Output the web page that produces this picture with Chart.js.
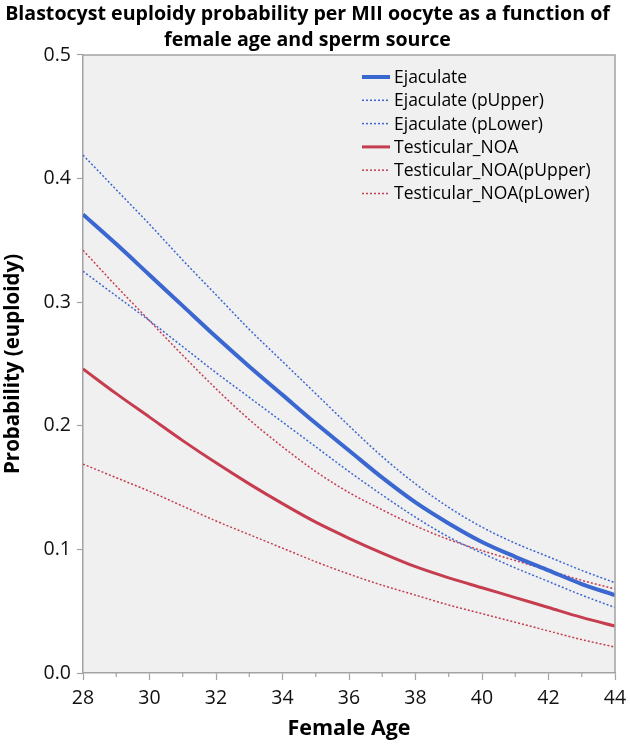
<!DOCTYPE html>
<html>
<head>
<meta charset="utf-8">
<script src="https://cdn.jsdelivr.net/npm/chart.js@4/dist/chart.umd.min.js"></script>
<style>
  html, body { margin: 0; padding: 0; background: #ffffff; }
  #wrap { width: 630px; height: 745px; }
</style>
</head>
<body>
<div id="wrap"><canvas id="c" width="630" height="745"></canvas></div>
<script>
// ---- Data ----
const titleLines = ["Blastocyst euploidy probability per MII oocyte as a function of", "female age and sperm source"];
const xTitle = "Female Age";
const yTitle = "Probability (euploidy)";
const ages = [28, 29, 30, 31, 32, 33, 34, 35, 36, 37, 38, 39, 40, 41, 42, 43, 44];
const ejaculate      = [0.371, 0.347, 0.322, 0.297, 0.272, 0.248, 0.225, 0.202, 0.180, 0.158, 0.138, 0.121, 0.106, 0.094, 0.083, 0.072, 0.063];
const ejaculateUpper = [0.419, 0.391, 0.363, 0.334, 0.306, 0.278, 0.252, 0.226, 0.200, 0.175, 0.153, 0.134, 0.118, 0.105, 0.094, 0.083, 0.073];
const ejaculateLower = [0.325, 0.305, 0.285, 0.264, 0.243, 0.223, 0.203, 0.183, 0.163, 0.144, 0.126, 0.110, 0.097, 0.085, 0.074, 0.063, 0.053];
const noa            = [0.246, 0.226, 0.207, 0.188, 0.170, 0.153, 0.137, 0.122, 0.109, 0.097, 0.086, 0.077, 0.069, 0.061, 0.053, 0.045, 0.038];
const noaUpper       = [0.342, 0.313, 0.285, 0.257, 0.230, 0.205, 0.183, 0.163, 0.146, 0.132, 0.119, 0.108, 0.099, 0.091, 0.083, 0.075, 0.068];
const noaLower       = [0.169, 0.158, 0.147, 0.135, 0.123, 0.112, 0.101, 0.090, 0.080, 0.071, 0.063, 0.055, 0.048, 0.041, 0.034, 0.027, 0.021];
const seriesLabels = ["Ejaculate", "Ejaculate (pUpper)", "Ejaculate (pLower)", "Testicular_NOA", "Testicular_NOA(pUpper)", "Testicular_NOA(pLower)"];
const yTickValues = [0, 0.1, 0.2, 0.3, 0.4, 0.5];

// ---- Styles ----
const FONT = "'Open Sans', 'Noto Sans', sans-serif";
const BLUE = "rgb(59,103,209)";
const RED = "rgb(197,61,79)";
const FRAME = "#a3a3a3";

function pts(vals) { return ages.map((a, i) => ({ x: a, y: vals[i] })); }

function ds(label, vals, color, width, dash) {
  return {
    label: label,
    data: pts(vals),
    borderColor: color,
    backgroundColor: color,
    borderWidth: width,
    borderDash: dash,
    pointRadius: 0,
    cubicInterpolationMode: 'monotone',
    fill: false
  };
}

const bgAndFrame = {
  id: 'bgAndFrame',
  beforeDraw(chart) {
    const { ctx, chartArea: a } = chart;
    ctx.save();
    ctx.fillStyle = '#f0f0f0';
    ctx.fillRect(a.left, a.top, a.right - a.left, a.bottom - a.top);
    ctx.restore();
  },
  afterDraw(chart) {
    const { ctx, chartArea: a } = chart;
    ctx.save();
    ctx.strokeStyle = FRAME;
    ctx.lineWidth = 1.5;
    ctx.beginPath();
    ctx.moveTo(a.left, a.top); ctx.lineTo(a.right, a.top); ctx.lineTo(a.right, a.bottom);
    ctx.stroke();
    // minor x ticks at odd ages
    const xs = chart.scales.x;
    ctx.lineWidth = 1.2;
    ages.forEach(v => {
      if (v % 2 === 1) {
        const px = xs.getPixelForValue(v);
        ctx.beginPath(); ctx.moveTo(px, a.bottom); ctx.lineTo(px, a.bottom + 4); ctx.stroke();
      }
    });
    // legend inside plot
    const lx0 = 362, lx1 = 390, tx = 394, y0 = 77, dy = 23.3;
    ctx.font = "17.5px " + FONT;
    ctx.textBaseline = 'middle';
    ctx.textAlign = 'left';
    chart.data.datasets.forEach((d, i) => {
      const y = y0 + i * dy;
      ctx.strokeStyle = d.borderColor;
      ctx.lineWidth = d.borderWidth;
      ctx.setLineDash(d.borderDash || []);
      ctx.beginPath(); ctx.moveTo(lx0, y); ctx.lineTo(lx1, y); ctx.stroke();
      ctx.setLineDash([]);
      ctx.fillStyle = '#000';
      ctx.fillText(d.label, tx, y + 1);
    });
    ctx.restore();
  }
};

new Chart(document.getElementById('c'), {
  type: 'line',
  data: {
    datasets: [
      ds(seriesLabels[0], ejaculate, BLUE, 4, []),
      ds(seriesLabels[1], ejaculateUpper, BLUE, 1.5, [2, 2]),
      ds(seriesLabels[2], ejaculateLower, BLUE, 1.5, [2, 2]),
      ds(seriesLabels[3], noa, RED, 3, []),
      ds(seriesLabels[4], noaUpper, RED, 1.5, [2, 2]),
      ds(seriesLabels[5], noaLower, RED, 1.5, [2, 2])
    ]
  },
  options: {
    responsive: false,
    animation: false,
    layout: { padding: { left: 0, right: 15, top: 0, bottom: 0 } },
    plugins: {
      legend: { display: false },
      tooltip: { enabled: false },
      title: {
        display: true,
        text: titleLines,
        color: '#000',
        font: { family: FONT, size: 19.6, weight: 'bold', lineHeight: 1.3 },
        padding: { top: 2, bottom: 2 }
      }
    },
    scales: {
      x: {
        type: 'linear',
        min: 28, max: 44,
        afterFit(s) { s.height = 72; s.paddingLeft = 0; s.paddingRight = 0; },
        ticks: { stepSize: 2, color: '#111', padding: 7, font: { family: FONT, size: 19.5 } },
        grid: { drawOnChartArea: false, tickLength: 7, tickColor: FRAME, tickWidth: 1.2 },
        border: { display: true, color: FRAME, width: 1.5 },
        title: { display: true, text: xTitle, color: '#000', font: { family: FONT, size: 21.5, weight: 'bold' }, padding: { top: 0, bottom: 3 } }
      },
      y: {
        type: 'linear',
        min: 0, max: 0.5,
        afterFit(s) { s.width = 83; s.paddingTop = 0; s.paddingBottom = 0; },
        afterBuildTicks(s) { s.ticks = yTickValues.map(v => ({ value: v })); },
        ticks: { color: '#111', padding: 6, font: { family: FONT, size: 19.5 }, callback: v => Number(v).toFixed(1) },
        grid: { drawOnChartArea: false, tickLength: 6, tickColor: FRAME, tickWidth: 1.2 },
        border: { display: true, color: FRAME, width: 1.5 },
        title: { display: true, text: yTitle, color: '#000', font: { family: FONT, size: 20.5, weight: 'bold' }, padding: { top: 1, bottom: 0 } }
      }
    }
  },
  plugins: [bgAndFrame]
});
</script>
</body>
</html>
